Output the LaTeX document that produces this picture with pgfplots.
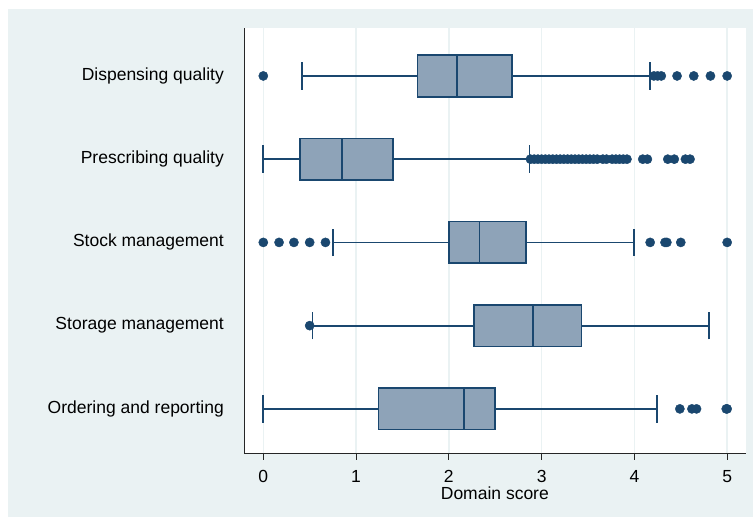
\documentclass[border=0pt]{standalone}
\usepackage{pgfplots}
\pgfplotsset{compat=1.18}
\usepgfplotslibrary{statistics}
\usepackage{fontspec}
\setmainfont{Liberation Sans}
\definecolor{bgc}{RGB}{234,242,243}
\definecolor{navy}{RGB}{26,71,111}
\definecolor{boxc}{RGB}{142,163,184}
\begin{document}
\begin{tikzpicture}[x=1bp,y=1bp]
\fill[white] (0,0) rectangle (753,517);
\fill[bgc] (8,0) rectangle (753,508);
\useasboundingbox (0,0) rectangle (753,517);
\begin{axis}[
 at={(244bp,64bp)}, anchor=south west,
 scale only axis, width=501.7bp, height=424.5bp,
 xmin=-0.208, xmax=5.2, ymin=-0.53, ymax=4.57,
 axis lines*=left,
 axis line style={black!85, line width=0.9bp},
 axis background/.style={fill=white},
 xtick={0,...,5}, ytick={0,...,4},
 yticklabels={Ordering and reporting, Storage management, Stock management, Prescribing quality, Dispensing quality},
 ytick style={draw=none},
 xtick style={black!85, line width=0.9bp},
 tick align=outside,
 major tick length=7bp,
 xmajorgrids, grid style={bgc, line width=1.5bp},
 font=\fontsize{17.5bp}{20bp}\selectfont,
 /pgf/number format/assume math mode=true,
 xticklabel style={inner sep=0pt, yshift=-10bp},
 yticklabel style={inner sep=0pt, xshift=-13bp},
 xlabel={Domain score},
 xlabel style={inner sep=0pt, yshift=-4bp},
 boxplot/draw direction=x,
 boxplot/box extend=0.5,
 boxplot/whisker extend=0.33,
 boxplot/every box/.style={fill=boxc, draw=navy, line width=1.6bp},
 boxplot/every whisker/.style={draw=navy, line width=1.8bp},
 boxplot/every median/.style={draw=navy, line width=1.8bp},
 clip=false,
]
% Dispensing quality
\addplot[navy, boxplot prepared={draw position=4, lower whisker=0.418, lower quartile=1.66, median=2.09, upper quartile=2.68, upper whisker=4.165}] coordinates {};
% Prescribing quality
\addplot[navy, boxplot prepared={draw position=3, lower whisker=0, lower quartile=0.396, median=0.846, upper quartile=1.40, upper whisker=2.87}] coordinates {};
% Stock management
\addplot[navy, boxplot prepared={draw position=2, lower whisker=0.75, lower quartile=2.0, median=2.33, upper quartile=2.83, upper whisker=4.0}] coordinates {};
% Storage management
\addplot[navy, boxplot prepared={draw position=1, lower whisker=0.53, lower quartile=2.27, median=2.905, upper quartile=3.43, upper whisker=4.80}] coordinates {};
% Ordering and reporting
\addplot[navy, boxplot prepared={draw position=0, lower whisker=0, lower quartile=1.24, median=2.167, upper quartile=2.50, upper whisker=4.245}] coordinates {};
% outliers
\addplot[only marks, mark=*, mark size=4.6bp, mark options={fill=navy, draw=navy, line width=0.4bp}] coordinates {
 (0,4) (4.21,4) (4.25,4) (4.29,4) (4.46,4) (4.64,4) (4.82,4) (5.0,4)
 (2.88,3) (2.92,3) (2.96,3) (3.0,3) (3.04,3) (3.08,3) (3.12,3) (3.16,3) (3.2,3) (3.24,3) (3.28,3) (3.32,3) (3.36,3) (3.4,3) (3.44,3) (3.48,3) (3.52,3) (3.56,3) (3.6,3) (3.66,3) (3.7,3) (3.76,3) (3.8,3) (3.84,3) (3.88,3) (3.92,3) (4.09,3) (4.14,3) (4.36,3) (4.43,3) (4.55,3) (4.6,3)
 (0,2) (0.17,2) (0.33,2) (0.5,2) (0.67,2) (4.17,2) (4.33,2) (4.35,2) (4.5,2) (5.0,2)
 (0.5,1)
 (4.49,0) (4.62,0) (4.67,0) (5.0,0) (4.99,0)
};
\end{axis}
\end{tikzpicture}
\end{document}
